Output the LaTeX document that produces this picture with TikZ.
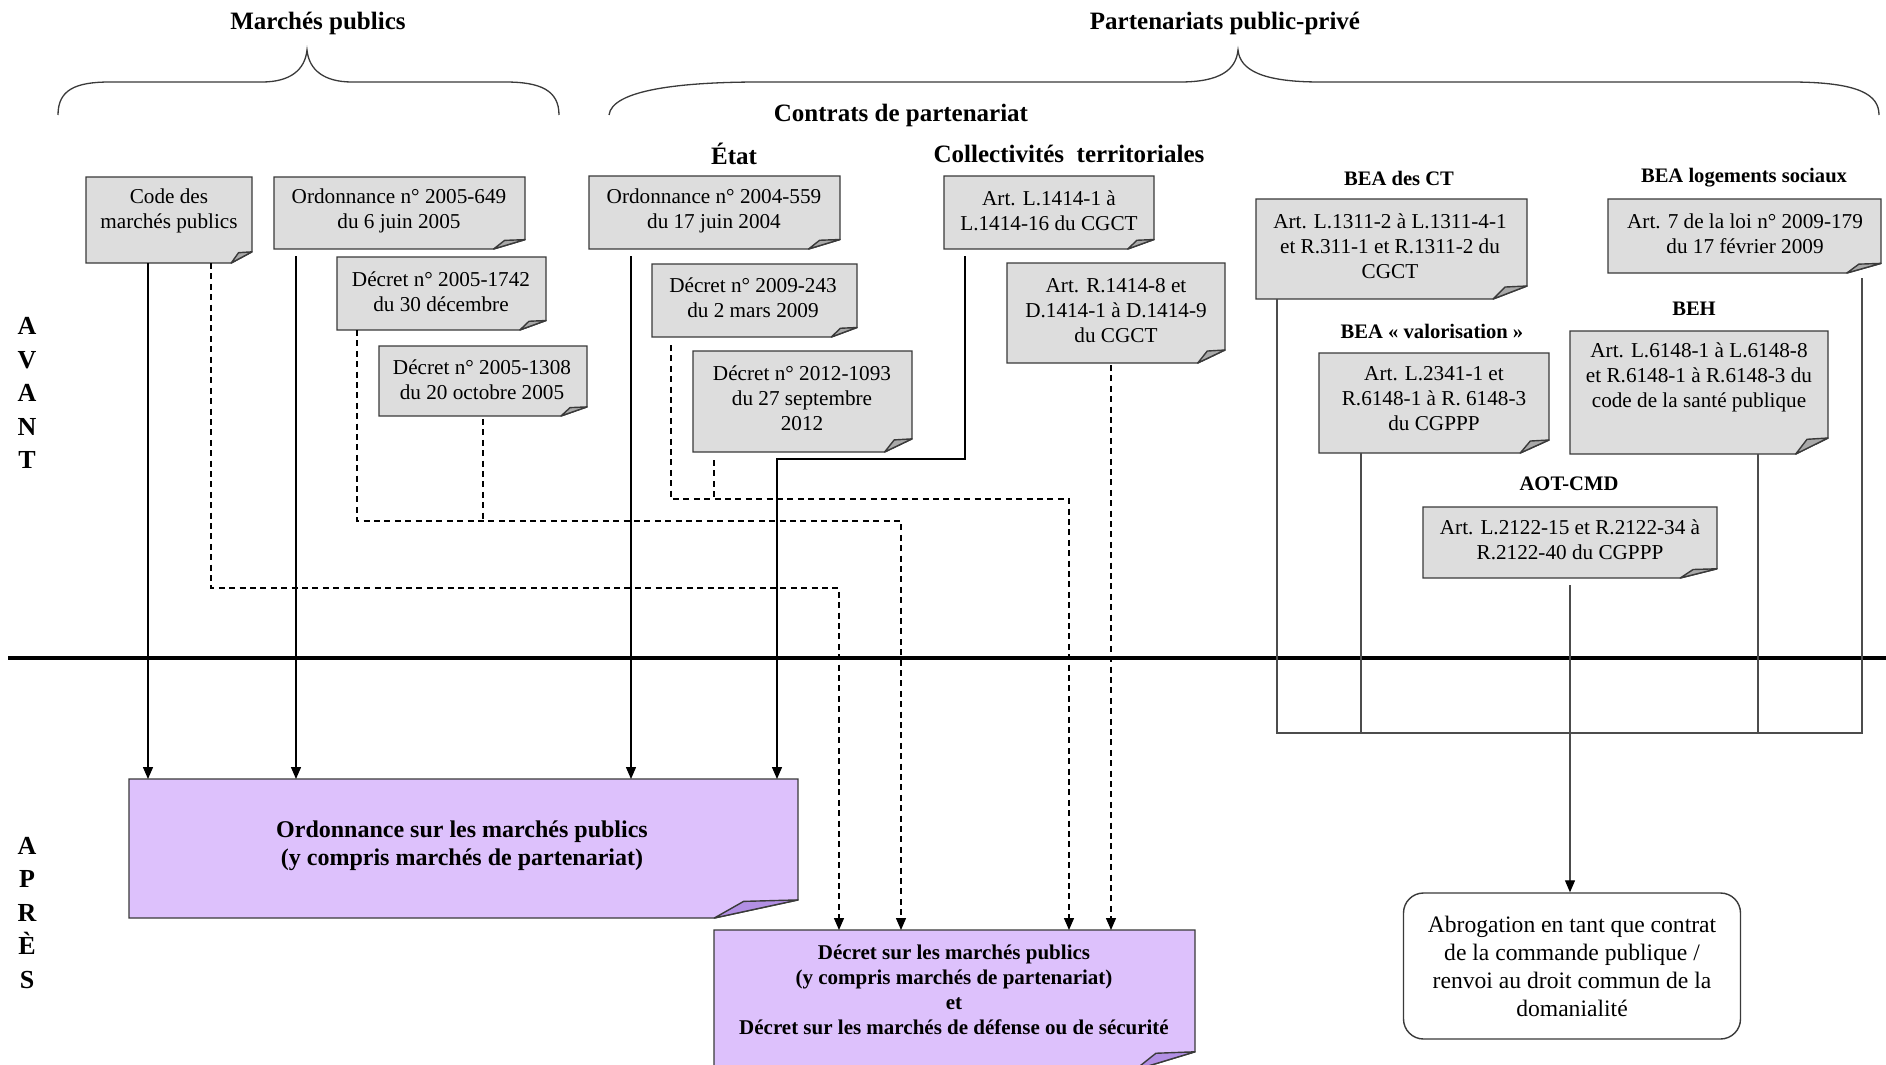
\documentclass[tikz,border=0pt]{standalone}
\usepackage{fontspec}
\setmainfont{Liberation Serif}
\usetikzlibrary{arrows.meta,calc}
\definecolor{boxgrey}{HTML}{DDDDDD}
\definecolor{flapgrey}{HTML}{A9A9A9}
\definecolor{lav}{HTML}{DDC1FC}
\definecolor{lavflap}{HTML}{B28FE4}
\definecolor{edge}{HTML}{3A3A3A}
\tikzset{
  boxline/.style={draw=edge, line width=0.7pt, line join=miter},
  boxtext/.style={align=center, inner sep=0, font=\fontsize{10.6}{12.5}\selectfont},
  bigtext/.style={align=center, inner sep=0, font=\bfseries\fontsize{12}{14}\selectfont},
  dectext/.style={align=center, inner sep=0, font=\bfseries\fontsize{10.5}{12.4}\selectfont},
  title/.style={inner sep=0, font=\bfseries\fontsize{12.5}{14}\selectfont},
  sublabel/.style={inner sep=0, font=\bfseries\fontsize{10.3}{12}\selectfont},
  side/.style={align=center, inner sep=0, font=\bfseries\fontsize{13}{16.75}\selectfont},
  brace/.style={draw=edge, line width=0.65pt},
  conn/.style={draw=black, line width=0.7pt},
  dconn/.style={conn, dash pattern=on 3pt off 2.2pt},
  rconn/.style={draw=black!70, line width=0.6pt},
  tip/.style={-{Triangle[length=6pt,width=5pt,color=black]}},
}
\newcommand\notebox[7]{%
  \pgfmathsetmacro\nbdx{0.125*(#4-#2)}%
  \pgfmathsetmacro\nbdy{0.13*(#5-#3)}%
  \node[inner sep=0, outer sep=0, minimum width={(#4-#2)*0.5pt}, minimum height={(#5-#3)*0.5pt}] (#1) at ({(#2+#4)/2},{(#3+#5)/2}) {};
  \filldraw[boxline, fill=#6] (#2,#3) -- (#4,#3) -- (#4,#5-\nbdy) -- (#4-\nbdx,#5) -- (#2,#5) -- cycle;
  \filldraw[boxline, fill=#7, line join=round] (#4-\nbdx,#5) -- (#4-0.65*\nbdx,#5-0.92*\nbdy) -- (#4,#5-\nbdy) -- cycle;
}
\begin{document}
\begin{tikzpicture}[x=0.5pt,y=-0.5pt]
\useasboundingbox (0,0) rectangle (1886,1065);
\clip (0,0) rectangle (1886,1065);
\fill[white] (0,0) rectangle (1886,1065);

% titles and braces
\node[title] (tmp) at (318,23) {Marchés publics};
\node[title] (tppp) at (1225,23) {Partenariats public-privé};
\draw[brace] (58,115) .. controls (58,90) and (75,82) .. (110,82) -- (262,82)
  .. controls (290,82) and (305,70) .. (307,50)
  .. controls (309,70) and (324,82) .. (352,82) -- (505,82)
  .. controls (540,82) and (559,90) .. (559,115);
\draw[brace] (609,115) .. controls (612,90) and (680,82) .. (760,82) -- (1180,82)
  .. controls (1220,82) and (1236,70) .. (1238,50)
  .. controls (1240,70) and (1262,82) .. (1320,82) -- (1790,82)
  .. controls (1860,82) and (1879,95) .. (1879,115);
\node[title] (tcp) at (901,115) {Contrats de partenariat};
\node[title] (tetat) at (734,154) {État};
\node[title] (tct) at (1069,154) {Collectivités\ \ territoriales};
\node[sublabel] (tbeact) at (1399,178) {BEA des CT};
\node[sublabel] (tbeals) at (1744,178) {BEA logements sociaux};
\node[sublabel] (tbeav) at (1432,331) {BEA «~valorisation~»};
\node[sublabel] (tbeh) at (1694,309) {BEH};
\node[sublabel] (taot) at (1569,484) {AOT-CMD};

% side labels and separator
\node[side] (avant) at (27,393) {A\\V\\A\\N\\T};
\node[side] (apres) at (27,913) {A\\P\\R\\È\\S};
\draw[line width=2pt] (8,658) -- (1886,658);

% grey note boxes
\notebox{code}{86}{177}{252}{263}{boxgrey}{flapgrey}
\node[boxtext] (code-t) at (169,211) {Code des\\marchés publics};
\notebox{ord1}{274}{177}{525}{249}{boxgrey}{flapgrey}
\node[boxtext] (ord1-t) at (399,211) {Ordonnance n° 2005-649\\du 6 juin 2005};
\notebox{dec1742}{337}{257}{546}{330}{boxgrey}{flapgrey}
\node[boxtext] (dec1742-t) at (441,292) {Décret n° 2005-1742\\du 30 décembre};
\notebox{dec1308}{379}{346}{587}{416}{boxgrey}{flapgrey}
\node[boxtext] (dec1308-t) at (482,380) {Décret n° 2005-1308\\du 20 octobre 2005};
\notebox{ord2}{589}{176}{840}{249}{boxgrey}{flapgrey}
\node[boxtext] (ord2-t) at (714,211) {Ordonnance n° 2004-559\\du 17 juin 2004};
\notebox{dec243}{652}{264}{857}{337}{boxgrey}{flapgrey}
\node[boxtext] (dec243-t) at (753,298) {Décret n° 2009-243\\du 2 mars 2009};
\notebox{dec1093}{693}{351}{912}{452}{boxgrey}{flapgrey}
\node[boxtext] (dec1093-t) at (802,398) {Décret n° 2012-1093\\du 27 septembre\\2012};
\notebox{l1414}{944}{176}{1154}{249}{boxgrey}{flapgrey}
\node[boxtext] (l1414-t) at (1049,211) {Art. L.1414-1 à\\L.1414-16 du CGCT};
\notebox{r1414}{1007}{263}{1225}{363}{boxgrey}{flapgrey}
\node[boxtext] (r1414-t) at (1116,311) {Art. R.1414-8 et\\D.1414-1 à D.1414-9\\du CGCT};
\notebox{beact}{1256}{199}{1527}{299}{boxgrey}{flapgrey}
\node[boxtext] (beact-t) at (1390,246) {Art. L.1311-2 à L.1311-4-1\\et R.311-1 et R.1311-2 du\\CGCT};
\notebox{loi}{1608}{199}{1881}{273}{boxgrey}{flapgrey}
\node[boxtext] (loi-t) at (1745,234) {Art. 7 de la loi n° 2009-179\\du 17 février 2009};
\notebox{beav}{1319}{353}{1549}{453}{boxgrey}{flapgrey}
\node[boxtext] (beav-t) at (1434,399) {Art. L.2341-1 et\\R.6148-1 à R. 6148-3\\du CGPPP};
\notebox{beh}{1570}{331}{1828}{454}{boxgrey}{flapgrey}
\node[boxtext] (beh-t) at (1699,377) {Art. L.6148-1 à L.6148-8\\et R.6148-1 à R.6148-3 du\\code de la santé publique};
\notebox{aot}{1423}{507}{1717}{578}{boxgrey}{flapgrey}
\node[boxtext] (aot-t) at (1570,540) {Art. L.2122-15 et R.2122-34 à\\R.2122-40 du CGPPP};

% purple boxes
\notebox{ordp}{129}{779}{798}{918}{lav}{lavflap}
\node[bigtext] (ordp-t) at (462,846) {Ordonnance sur les marchés publics\\(y compris marchés de partenariat)};
\notebox{decp}{714}{930}{1195}{1070}{lav}{lavflap}
\node[dectext] (decp-t) at (954,990) {Décret sur les marchés publics\\(y compris marchés de partenariat)\\et\\Décret sur les marchés de défense ou de sécurité};

% rounded box
\node[draw=edge, line width=0.7pt, rounded corners=10pt, minimum width=168.5pt, minimum height=73pt,
      align=center, inner sep=0, font=\fontsize{11.8}{14}\selectfont] (abrog) at (1572,966)
  {Abrogation en tant que contrat\\de la commande publique /\\renvoi au droit commun de la\\domanialité};

% solid connectors to the ordonnance
\draw[conn,tip] (code.south -| 148,0) -- (ordp.north -| 148,0);
\draw[conn,tip,shorten <=3.5pt] (ord1.south -| 296,0) -- (ordp.north -| 296,0);
\draw[conn,tip,shorten <=3.5pt] (ord2.south -| 631,0) -- (ordp.north -| 631,0);
\draw[conn,tip,shorten <=3.5pt] (l1414.south -| 965,0) -- (965,459) -| (ordp.north -| 777,0);

% dashed connectors to the decret
\draw[dconn,tip] (code.south -| 211,0) |- (839,588) -- (decp.north -| 839,0);
\draw[dconn,tip] (dec1742.south -| 357,0) |- (901,521) -- (decp.north -| 901,0);
\draw[dconn,shorten <=1.5pt] (dec1308.south -| 483,0) -- (483,521);
\draw[dconn,tip,shorten <=4pt] (dec243.south -| 671,0) |- (1069,499) -- (decp.north -| 1069,0);
\draw[dconn,shorten <=4pt] (dec1093.south -| 714,0) -- (714,499);
\draw[dconn,tip,shorten <=1pt] (r1414.south -| 1111,0) -- (decp.north -| 1111,0);

% right side connectors
\draw[rconn,shorten <=2.5pt] (loi.south -| 1862,0) -- (1862,733) -- (1277,733) -- (beact.south -| 1277,0);
\draw[rconn] (beav.south -| 1361,0) -- (1361,733);
\draw[rconn] (beh.south -| 1758,0) -- (1758,733);
\draw[rconn,tip,shorten <=3.5pt] (aot.south -| 1570,0) -- (abrog.north -| 1570,0);
\end{tikzpicture}
\end{document}
